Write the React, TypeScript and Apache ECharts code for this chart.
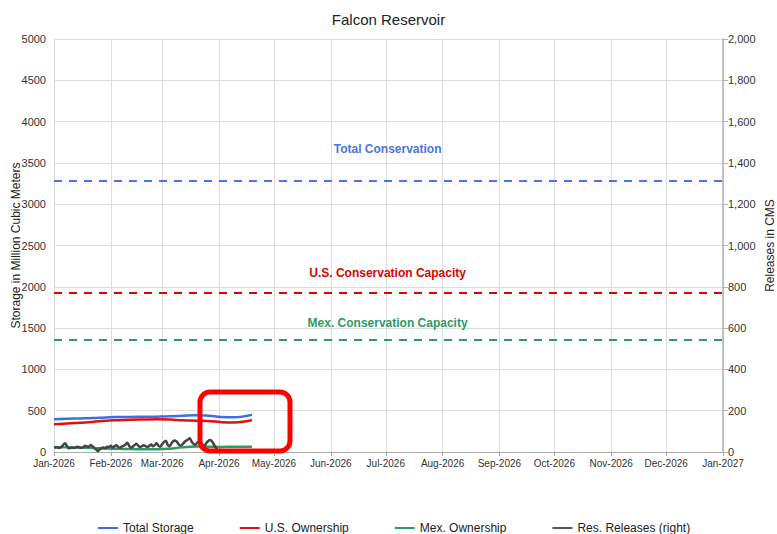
import React, { useEffect, useRef } from "react";
import * as echarts from "echarts";

const MONTHS = ["Jan", "Feb", "Mar", "Apr", "May", "Jun", "Jul", "Aug", "Sep", "Oct", "Nov", "Dec"];

// storage sample days (days after Jan 1, 2026)
const storageDays = [0, 7, 14, 21, 28, 35, 42, 49, 56, 63, 70, 77, 84, 91, 98, 105, 108];
const totalStorage = [396, 402, 407, 412, 419, 423, 425, 426, 428, 432, 440, 446, 440, 424, 420, 436, 452];
const usOwnership = [335, 346, 355, 364, 378, 385, 390, 393, 395, 393, 384, 379, 376, 362, 357, 372, 388];
const mexOwnership = [61, 56, 52, 48, 41, 38, 35, 33, 33, 39, 56, 67, 64, 62, 63, 64, 64];

// daily releases (CMS) starting Jan 1, 2026
const releases = [
  20, 22, 21, 20, 24, 35, 42, 30, 18, 20,
  22, 19, 24, 26, 22, 20, 23, 30, 27, 24,
  34, 28, 20, 12, 5, 14, 20, 22, 18, 26,
  24, 30, 22, 28, 33, 25, 20, 27, 30, 36,
  45, 30, 22, 26, 34, 40, 30, 24, 28, 33,
  28, 25, 30, 36, 28, 34, 42, 30, 26, 38,
  48, 55, 35, 28, 40, 52, 56, 50, 38, 30,
  36, 46, 54, 60, 66, 52, 40, 34, 44, 50,
  46, 36, 30, 42, 52, 58, 54, 40, 25, 12,
  3, 0, 0, 0, 0, 0, 0, 0, 0, 0,
  0, 0, 0, 0, 0, 0, 0,
];

const totalConservation = 3281;
const usConservation = 1925;
const mexConservation = 1356;

const DAY = 86400000;
const start = new Date(2026, 0, 1).getTime();
const end = new Date(2027, 0, 1).getTime();
const mid = new Date(2026, 6, 2).getTime();
const d = (n: number) => start + n * DAY;

const FONT = "Liberation Sans, Arial, sans-serif";

function refLine(name: string, value: number, color: string, dist: number) {
  return {
    name,
    type: "line",
    yAxisIndex: 0,
    symbol: "none",
    silent: true,
    lineStyle: { color, width: 2, type: [8, 7] },
    data: [
      [start, value],
      [end, value],
    ],
    markPoint: {
      silent: true,
      symbol: "circle",
      symbolSize: 1,
      itemStyle: { color },
      label: {
        show: true,
        position: "top",
        distance: dist,
        formatter: name,
        color,
        fontWeight: "bold",
        fontSize: 12,
        fontFamily: FONT,
      },
      data: [{ coord: [mid, value], value }],
    },
  };
}

export default function App() {
  const ref = useRef<HTMLDivElement>(null);
  useEffect(() => {
    if (!ref.current) return;
    const chart = echarts.init(ref.current, null, { renderer: "svg" });
    const option: any = {
      animation: false,
      backgroundColor: "#ffffff",
      title: {
        text: "Falcon Reservoir",
        left: "center",
        top: 7,
        textStyle: { fontFamily: FONT, fontSize: 15, fontWeight: "normal", color: "#222" },
      },
      grid: { left: 54, right: 54, top: 39, bottom: 82, containLabel: false, outerBoundsMode: "none" },
      legend: {
        top: 517,
        left: 93,
        itemGap: 46,
        icon: "rect",
        itemWidth: 20,
        itemHeight: 2,
        textStyle: { fontFamily: FONT, fontSize: 12, color: "#222" },
        data: ["Total Storage", "U.S. Ownership", "Mex. Ownership", "Res. Releases (right)"],
      },
      xAxis: {
        type: "time",
        min: start,
        max: end,
        splitNumber: 12,
        minInterval: 28 * DAY,
        maxInterval: 31 * DAY,
        axisLine: { show: true, lineStyle: { color: "#aaaaaa", width: 1 } },
        axisTick: { show: true, length: 4, lineStyle: { color: "#aaaaaa" } },
        splitLine: { show: true, lineStyle: { color: "#dddddd", width: 1 } },
        axisLabel: {
          fontFamily: FONT,
          fontSize: 10,
          color: "#333",
          margin: 6,
          showMinLabel: true,
          showMaxLabel: true,
          formatter: (v: number) => {
            const dt = new Date(v);
            return MONTHS[dt.getMonth()] + "-" + dt.getFullYear();
          },
        },
      },
      yAxis: [
        {
          type: "value",
          min: 0,
          max: 5000,
          interval: 500,
          name: "Storage in Million Cubic Meters",
          nameLocation: "middle",
          nameGap: 32,
          nameMoveOverlap: false,
          nameTextStyle: { fontFamily: FONT, fontSize: 12, color: "#222" },
          axisLine: { show: false },
          axisTick: { show: false },
          splitLine: { show: true, lineStyle: { color: "#dddddd", width: 1 } },
          axisLabel: {
            fontFamily: FONT,
            fontSize: 11,
            color: "#333",
            margin: 8,
            formatter: (v: number) => String(v),
          },
        },
        {
          type: "value",
          min: 0,
          max: 2000,
          interval: 200,
          position: "right",
          name: "Releases in CMS",
          nameLocation: "middle",
          nameGap: 41,
          nameMoveOverlap: false,
          nameTextStyle: { fontFamily: FONT, fontSize: 12, color: "#222" },
          axisLine: { show: true, lineStyle: { color: "#b0b0b0", width: 1.5 } },
          axisTick: { show: true, length: 5, lineStyle: { color: "#b0b0b0" } },
          splitLine: { show: false },
          axisLabel: {
            fontFamily: FONT,
            fontSize: 11,
            color: "#333",
            margin: 5,
            formatter: (v: number) => v.toLocaleString("en-US"),
          },
        },
      ],
      series: [
        refLine("Total Conservation", totalConservation, "#4a74e0", 25),
        refLine("U.S. Conservation Capacity", usConservation, "#e00000", 13),
        refLine("Mex. Conservation Capacity", mexConservation, "#2e9a66", 10),
        {
          name: "Total Storage",
          type: "line",
          yAxisIndex: 0,
          symbol: "none",
          smooth: true,
          lineStyle: { color: "#3e6fe0", width: 2.5 },
          itemStyle: { color: "#3e6fe0" },
          data: storageDays.map((n, i) => [d(n), totalStorage[i]]),
        },
        {
          name: "U.S. Ownership",
          type: "line",
          yAxisIndex: 0,
          symbol: "none",
          smooth: true,
          lineStyle: { color: "#e01010", width: 2.5 },
          itemStyle: { color: "#e01010" },
          data: storageDays.map((n, i) => [d(n), usOwnership[i]]),
        },
        {
          name: "Mex. Ownership",
          type: "line",
          yAxisIndex: 0,
          symbol: "none",
          smooth: true,
          lineStyle: { color: "#2e9a66", width: 2.5 },
          itemStyle: { color: "#2e9a66" },
          data: storageDays.map((n, i) => [d(n), mexOwnership[i]]),
        },
        {
          name: "Res. Releases (right)",
          type: "line",
          yAxisIndex: 1,
          symbol: "none",
          smooth: 0.3,
          lineStyle: { color: "#444444", width: 2.5 },
          itemStyle: { color: "#555555" },
          data: releases.map((v, i) => [d(i), v]),
        },
      ],
      graphic: [
        {
          type: "rect",
          shape: { x: 200, y: 392, width: 90, height: 59, r: 10 },
          style: { fill: "none", stroke: "#ff0000", lineWidth: 5 },
          z: 100,
        },
      ],
    };
    chart.setOption(option);
    return () => chart.dispose();
  }, []);
  return (
    <div
      ref={ref}
      style={{ position: "fixed", left: 0, top: 0, width: 777, height: 534, background: "#fff" }}
    />
  );
}
